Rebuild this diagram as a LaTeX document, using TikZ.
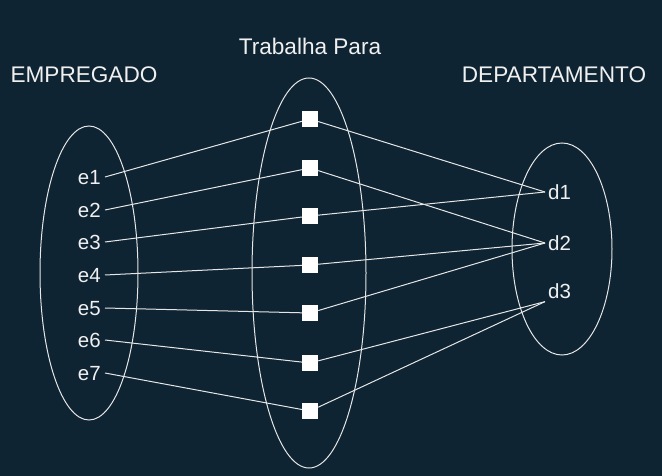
\documentclass[tikz,border=0pt]{standalone}
\usepackage{fontspec}
\setmainfont{Liberation Sans}
\usetikzlibrary{shapes.geometric}
\definecolor{bg}{HTML}{0E2432}
\definecolor{ln}{HTML}{E6E6E6}
\begin{document}
\begin{tikzpicture}[x=1pt,y=-1pt,
  title/.style={text=white!94!black,font=\fontsize{22.6}{27}\selectfont,inner sep=0pt,anchor=base},
  elabel/.style={text=white!94!black,font=\fontsize{20.5}{24}\selectfont,inner sep=4pt,anchor=east,text depth=0pt},
  dlabel/.style={text=white!94!black,font=\fontsize{20.5}{24}\selectfont,inner sep=3pt,anchor=west,text depth=0pt},
  sq/.style={rectangle,fill=white,minimum size=16pt,inner sep=0pt},
  set/.style={draw=ln,line width=1pt},
  link/.style={draw=ln,line width=1pt}]
\fill[bg] (0,0) rectangle (662,476);
\useasboundingbox (0,0) rectangle (662,476);
% sets
\node[set,ellipse,minimum width=98pt,minimum height=294pt,inner sep=0pt] (E) at (89,273) {};
\node[set,ellipse,minimum width=114pt,minimum height=390pt,inner sep=0pt] (T) at (309,273) {};
\node[set,ellipse,minimum width=100pt,minimum height=212pt,inner sep=0pt] (D) at (562,249) {};
% titles
\node[title] (tE) at (84,83) {EMPREGADO};
\node[title] (tT) at (310,55) {Trabalha Para};
\node[title] (tD) at (554,83) {DEPARTAMENTO};
% employees
\node[elabel] (e1) at (105,177) {e1};
\node[elabel] (e2) at (105,210) {e2};
\node[elabel] (e3) at (105,242) {e3};
\node[elabel] (e4) at (105,275) {e4};
\node[elabel] (e5) at (105,308) {e5};
\node[elabel] (e6) at (105,340) {e6};
\node[elabel] (e7) at (105,373) {e7};
% departments
\node[dlabel] (d1) at (545,192) {d1};
\node[dlabel] (d2) at (545,243) {d2};
\node[dlabel] (d3) at (545,291) {d3};
% squares
\node[sq] (s1) at (310,119) {};
\node[sq] (s2) at (310,168) {};
\node[sq] (s3) at (310,216) {};
\node[sq] (s4) at (310,265) {};
\node[sq] (s5) at (310,313) {};
\node[sq] (s6) at (310,363) {};
\node[sq] (s7) at (310,411) {};
% links
\draw[link] (e1.east) -- (s1);
\draw[link] (e2.east) -- (s2);
\draw[link] (e3.east) -- (s3);
\draw[link] (e4.east) -- (s4);
\draw[link] (e5.east) -- (s5);
\draw[link] (e6.east) -- (s6);
\draw[link] (e7.east) -- (s7);
\draw[link] (s1) -- (d1.west);
\draw[link] (s2) -- (d2.west);
\draw[link] (s3) -- (d1.west);
\draw[link] (s4) -- (d2.west);
\draw[link] (s5) -- (d2.west);
\draw[link] (s6) -- (d3.south west);
\draw[link] (s7) -- (d3.south west);
\end{tikzpicture}
\end{document}
